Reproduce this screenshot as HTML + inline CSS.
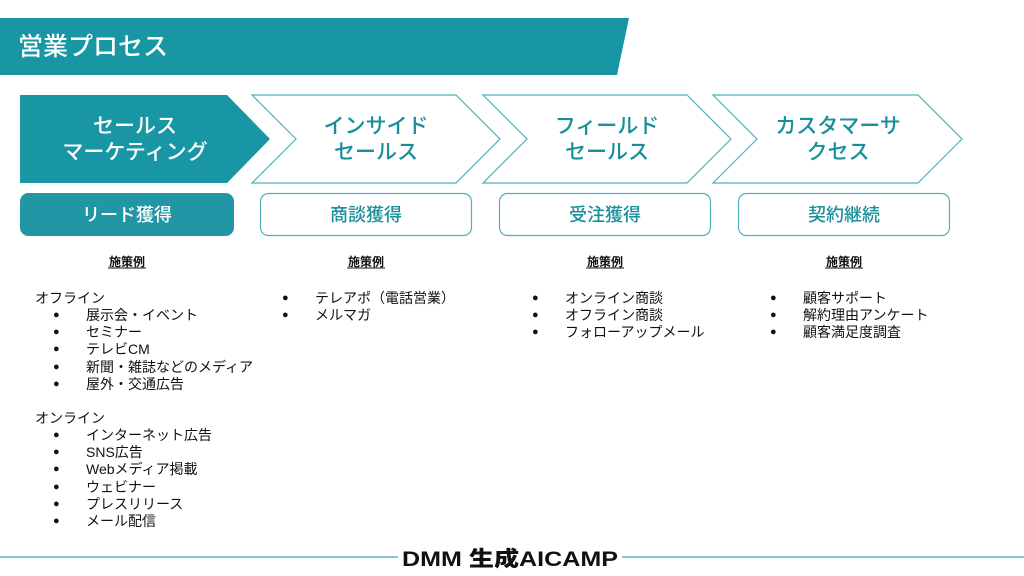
<!DOCTYPE html>
<html><head><meta charset="utf-8"><style>
html,body{margin:0;padding:0;background:#fff}
body{width:1024px;height:576px;overflow:hidden;position:relative;font-family:"Liberation Sans","Noto Sans CJK JP",sans-serif}
svg{position:absolute;left:0;top:0}
.t{position:absolute;font-size:14px;line-height:17.2px;color:#111;white-space:nowrap}
.b{font-size:11px}
</style></head><body>
<svg width="1024" height="576" viewBox="0 0 1024 576">
<polygon points="0,18 629,18 617,75 0,75" fill="#1896a4"/>
<text x="18" y="55" fill="#fff" font-size="25" font-weight="500" font-family="Noto Sans CJK JP, sans-serif">営業プロセス</text>
<polygon points="20,95 227,95 270,139 227,183 20,183" fill="#1896a4"/>
<polygon points="252,95 456,95 500,139 456,183 252,183 296,139" fill="#fff" stroke="#4fb0bb" stroke-width="1.2"/>
<polygon points="483,95 687,95 731,139 687,183 483,183 527,139" fill="#fff" stroke="#4fb0bb" stroke-width="1.2"/>
<polygon points="713,95 918,95 962,139 918,183 713,183 757,139" fill="#fff" stroke="#4fb0bb" stroke-width="1.2"/>
<g font-family="Noto Sans CJK JP, sans-serif" font-size="21" font-weight="500" text-anchor="middle">
<text x="135" y="133" fill="#fff">セールス</text><text x="135" y="159" fill="#fff">マーケティング</text>
<text x="376" y="133" fill="#1a8f9c">インサイド</text><text x="376" y="159" fill="#1a8f9c">セールス</text>
<text x="607" y="133" fill="#1a8f9c">フィールド</text><text x="607" y="159" fill="#1a8f9c">セールス</text>
<text x="838" y="133" fill="#1a8f9c">カスタマーサ</text><text x="838" y="159" fill="#1a8f9c">クセス</text>
</g>
<rect x="20.5" y="193.5" width="213" height="42" rx="8" fill="#2197a5" stroke="#2197a5"/>
<rect x="260.5" y="193.5" width="211" height="42" rx="8" fill="#fff" stroke="#4fb0bb" stroke-width="1.2"/>
<rect x="499.5" y="193.5" width="211" height="42" rx="8" fill="#fff" stroke="#4fb0bb" stroke-width="1.2"/>
<rect x="738.5" y="193.5" width="211" height="42" rx="8" fill="#fff" stroke="#4fb0bb" stroke-width="1.2"/>
<g font-family="Noto Sans CJK JP, sans-serif" font-size="18" font-weight="500" text-anchor="middle">
<text x="127" y="221" fill="#fff">リード獲得</text>
<text x="366" y="221" fill="#1a8f9c">商談獲得</text>
<text x="605" y="221" fill="#1a8f9c">受注獲得</text>
<text x="844" y="221" fill="#1a8f9c">契約継続</text>
</g>
<g font-family="Noto Sans CJK JP, sans-serif" font-size="12" font-weight="bold" text-anchor="middle" fill="#111">
<text x="127" y="266">施策例</text><text x="366" y="266">施策例</text><text x="605" y="266">施策例</text><text x="844" y="266">施策例</text>
</g>
<g stroke="#111" stroke-width="1" fill="none"><line x1="108" y1="268" x2="146" y2="268"/><line x1="347" y1="268" x2="385" y2="268"/><line x1="586" y1="268" x2="624" y2="268"/><line x1="825" y1="268" x2="863" y2="268"/></g>
<line x1="0" y1="557" x2="398" y2="557" stroke="#5fb3bd" stroke-width="1.5"/>
<line x1="622" y1="557" x2="1024" y2="557" stroke="#5fb3bd" stroke-width="1.5"/>
<text x="402" y="566" font-size="21" font-weight="900" fill="#111" font-family="Liberation Sans, Noto Sans CJK JP, sans-serif" textLength="216" lengthAdjust="spacingAndGlyphs">DMM 生成AICAMP</text>
</svg>
<div class="t" style="left:35px;top:290px">オフライン</div>
<div class="t b" style="left:53px;top:307px;line-height:17.2px">●<br>●<br>●<br>●<br>●</div>
<div class="t" style="left:86px;top:307px">展示会・イベント<br>セミナー<br>テレビCM<br>新聞・雑誌などのメディア<br>屋外・交通広告</div>
<div class="t" style="left:35px;top:410px">オンライン</div>
<div class="t b" style="left:53px;top:427px">●<br>●<br>●<br>●<br>●<br>●</div>
<div class="t" style="left:86px;top:427px">インターネット広告<br>SNS広告<br>Webメディア掲載<br>ウェビナー<br>プレスリリース<br>メール配信</div>
<div class="t b" style="left:282px;top:290px">●<br>●</div>
<div class="t" style="left:315px;top:290px">テレアポ（電話営業）<br>メルマガ</div>
<div class="t b" style="left:532px;top:290px">●<br>●<br>●</div>
<div class="t" style="left:565px;top:290px">オンライン商談<br>オフライン商談<br>フォローアップメール</div>
<div class="t b" style="left:770px;top:290px">●<br>●<br>●</div>
<div class="t" style="left:803px;top:290px">顧客サポート<br>解約理由アンケート<br>顧客満足度調査</div>
</body></html>
